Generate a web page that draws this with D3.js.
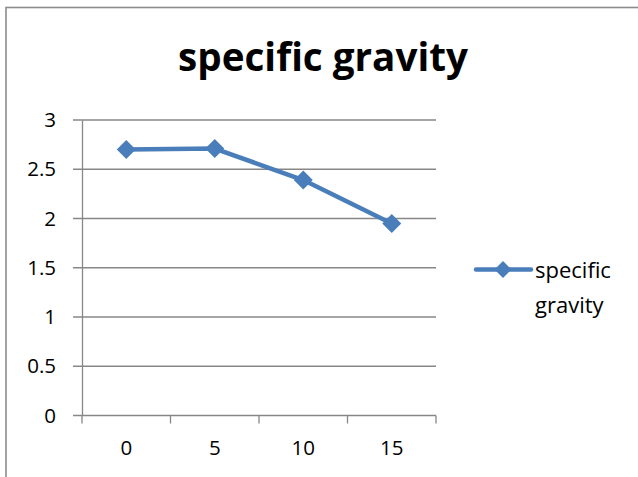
<!DOCTYPE html>
<html>
<head>
<meta charset="utf-8">
<script src="https://cdn.jsdelivr.net/npm/d3@7"></script>
<style>
  html, body { margin: 0; padding: 0; background: #fff; }
  svg { display: block; }
</style>
</head>
<body>
<script>
const title = "specific gravity";
const categories = ["0", "5", "10", "15"];
const seriesName = "specific gravity";
const values = [2.70, 2.71, 2.39, 1.95];
const yTicks = [0, 0.5, 1, 1.5, 2, 2.5, 3];

const W = 638, H = 477;
const font = "'Open Sans', 'DejaVu Sans', sans-serif";
const blue = "#4A7EBB";
const grey = "#878787";

const svg = d3.select("body").append("svg").attr("width", W).attr("height", H);

// chart frame
svg.append("rect")
  .attr("x", 6).attr("y", 7.5).attr("width", 700).attr("height", 600)
  .attr("fill", "none").attr("stroke", "#8c8c8c").attr("stroke-width", 1.6);

const plot = { left: 82, right: 436, top: 120, bottom: 415.5 };

const x = d3.scaleBand().domain(categories).range([plot.left, plot.right]).padding(0);
const y = d3.scaleLinear().domain([0, 3]).range([plot.bottom, plot.top]);

// gridlines (extend past axis like outside tick marks)
svg.append("g").selectAll("line").data(yTicks).join("line")
  .attr("x1", plot.left - 9).attr("x2", plot.right)
  .attr("y1", d => y(d)).attr("y2", d => y(d))
  .attr("stroke", grey).attr("stroke-width", 1.3);

// y axis
const yAxis = svg.append("g").attr("transform", `translate(${plot.left},0)`)
  .call(d3.axisLeft(y).tickValues(yTicks).tickSize(0).tickPadding(26).tickFormat(d3.format("")));
yAxis.select(".domain").attr("stroke", grey).attr("stroke-width", 1.3);
yAxis.selectAll("text").attr("font-family", font).attr("font-size", 20.5).attr("fill", "#000");

// x axis
const xAxis = svg.append("g").attr("transform", `translate(0,${plot.bottom})`)
  .call(d3.axisBottom(x).tickSize(0).tickPadding(25));
xAxis.select(".domain").remove();
xAxis.selectAll("text").attr("font-family", font).attr("font-size", 20.5).attr("fill", "#000");

// x tick marks at category boundaries
const bounds = categories.map(c => x(c)).concat([x.range()[1]]);
svg.append("g").selectAll("line").data(bounds).join("line")
  .attr("x1", d => d).attr("x2", d => d)
  .attr("y1", plot.bottom).attr("y2", plot.bottom + 8)
  .attr("stroke", grey).attr("stroke-width", 1.3);

// series line
const pts = categories.map((c, i) => [x(c) + x.bandwidth() / 2, y(values[i])]);
svg.append("path").datum(pts)
  .attr("d", d3.line())
  .attr("fill", "none").attr("stroke", blue).attr("stroke-width", 4.5)
  .attr("stroke-linejoin", "round").attr("stroke-linecap", "round");

const diamond = r => `M0,${-r}L${r},0L0,${r}L${-r},0Z`;
svg.append("g").selectAll("path").data(pts).join("path")
  .attr("transform", d => `translate(${d[0]},${d[1]})`)
  .attr("d", diamond(9.5))
  .attr("fill", blue);

// title
const t = svg.append("text")
  .attr("x", 323).attr("y", 71)
  .attr("text-anchor", "middle")
  .attr("font-family", font).attr("font-weight", "bold")
  .attr("font-size", 34).attr("fill", "#000")
  .text(title);
const tw = t.node().getComputedTextLength();
t.attr("font-size", 34 * 290 / tw);

// legend
const lg = svg.append("g");
lg.append("line").attr("x1", 476).attr("x2", 531).attr("y1", 269.5).attr("y2", 269.5)
  .attr("stroke", blue).attr("stroke-width", 4.5).attr("stroke-linecap", "round");
lg.append("path").attr("transform", "translate(503,269.5)").attr("d", diamond(8.5)).attr("fill", blue);
const words = seriesName.split(" ");
lg.append("text")
  .attr("font-family", font).attr("font-size", 22).attr("fill", "#000")
  .selectAll("tspan").data(words).join("tspan")
  .attr("x", 535).attr("y", (d, i) => 277.5 + i * 35)
  .text(d => d);
</script>
</body>
</html>
